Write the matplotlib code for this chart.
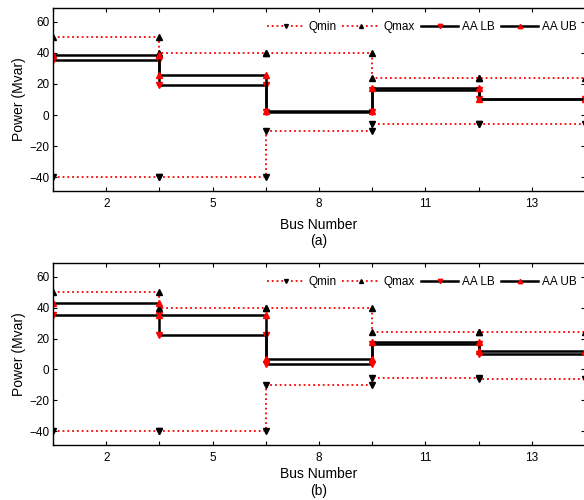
import numpy as np
import matplotlib
matplotlib.use("Agg")
import matplotlib.pyplot as plt

plt.rcParams['font.family'] = ['Liberation Sans', 'DejaVu Sans']

# Bus positions (index along axis) and tick labels
tick_pos = list(range(1, 12))
tick_labels = ['', '2', '', '5', '', '8', '', '11', '', '13', '']
edges = [1, 3, 5, 7, 9, 11]          # step edges (axis index)

# Segment values (Mvar)
qmin = [-40, -40, -10, -5.5, -6]
qmax = [50, 40, 40, 24, 24]

lb_a = [35.5, 19.5, 2.0, 16.2, 10.0]
ub_a = [39.0, 26.0, 2.8, 17.4, 10.6]

lb_b = [35.5, 22.5, 3.2, 16.2, 10.0]
ub_b = [43.0, 35.5, 6.8, 17.6, 11.8]

panels = [('(a)', lb_a, ub_a), ('(b)', lb_b, ub_b)]


def stair(vals):
    x = np.repeat(edges, 2)[1:-1]
    y = np.repeat(vals, 2)
    return x, y


W, H = 584, 500
fig = plt.figure(figsize=(W / 100, H / 100), dpi=100)
# (axes top px, axes bottom px, xlabel centre px, tag centre px)
geo = [(8, 191, 225, 241.5), (263, 445, 474, 491)]
for (tag, lb, ub), (top, bot, yl, yt) in zip(panels, geo):
    ax = fig.add_axes([53 / W, 1 - bot / H, 532 / W, (bot - top) / H])
    x, y = stair(qmin)
    ax.plot(x, y, color='red', ls=':', lw=1.3, marker='v', mfc='black', mec='black', ms=4, label='Qmin')
    x, y = stair(qmax)
    ax.plot(x, y, color='red', ls=':', lw=1.3, marker='^', mfc='black', mec='black', ms=4, label='Qmax')
    x, y = stair(lb)
    ax.plot(x, y, color='black', ls='-', lw=1.8, marker='v', mfc='red', mec='red', ms=4.5, label='AA LB')
    x, y = stair(ub)
    ax.plot(x, y, color='black', ls='-', lw=1.8, marker='^', mfc='red', mec='red', ms=4.5, label='AA UB')

    ax.set_xlim(1, 11)
    ax.set_ylim(-49, 69)
    ax.set_xticks(tick_pos)
    ax.set_xticklabels(tick_labels)
    ax.set_yticks([-40, -20, 0, 20, 40, 60])
    ax.tick_params(direction='in', top=True, right=True, length=3, labelsize=8.5)
    ax.tick_params(axis='y', pad=2.5)
    ax.tick_params(axis='x', pad=5)
    for s in ax.spines.values():
        s.set_linewidth(1.0)
    fig.text(19 / W, 1 - (top + bot) / 2 / H, 'Power (Mvar)', rotation=90,
             ha='center', va='center', fontsize=10)
    fig.text((53 + 266) / W, 1 - yl / H, 'Bus Number', ha='center', va='center', fontsize=10)
    fig.text((53 + 266) / W, 1 - yt / H, tag, ha='center', va='center', fontsize=10)
    ax.legend(loc='upper right', ncol=4, frameon=False, fontsize=8.5, numpoints=1,
              handlelength=3.2, columnspacing=0.5, handletextpad=0.3, markerscale=0.7,
              bbox_to_anchor=(1.0, 0.975), borderaxespad=0.3)

fig.savefig('out.png', dpi=100)
